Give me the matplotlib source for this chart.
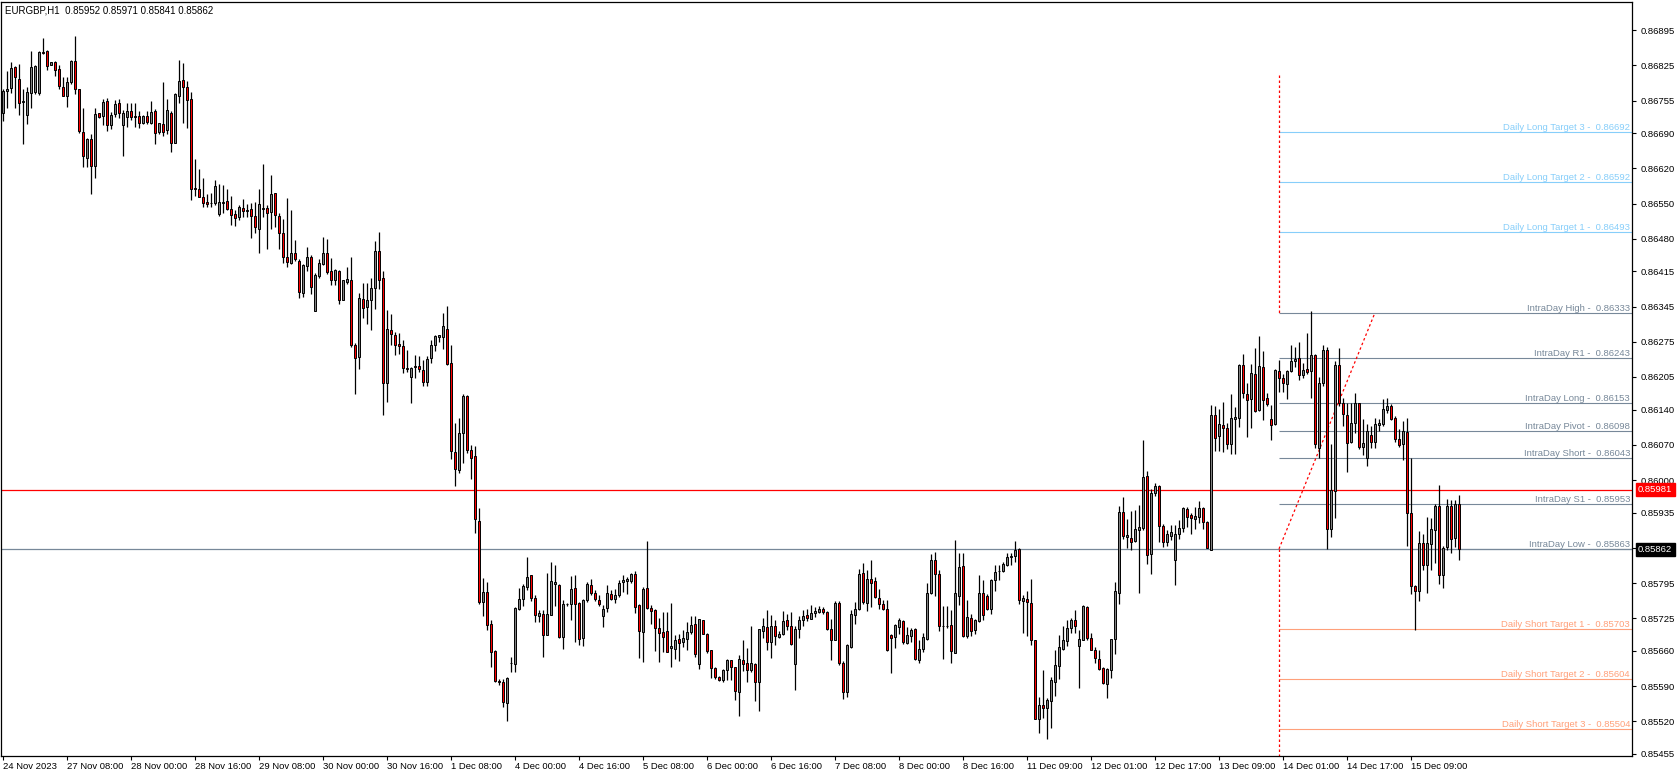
import numpy as np
import matplotlib
matplotlib.use("Agg")
import matplotlib.pyplot as plt
import matplotlib.transforms as mtrans

# EURGBP H1 candles, prices in points (1e-5)
opens_pt = [
    86731, 86774, 86780, 86821, 86798, 86752, 86726, 86770, 86772, 86770,
    86851, 86853, 86826, 86831, 86818, 86782, 86764, 86792, 86833, 86777,
    86693, 86641, 86679, 86624, 86731, 86724, 86754, 86706, 86729, 86750,
    86706, 86722, 86734, 86724, 86725, 86711, 86724, 86711, 86734, 86692,
    86709, 86696, 86731, 86671, 86764, 86796, 86782, 86759, 86581, 86579,
    86564, 86553, 86552, 86551, 86530, 86552, 86556, 86539, 86529, 86524,
    86542, 86536, 86539, 86526, 86500, 86540, 86542, 86534, 86571, 86526,
    86492, 86443, 86432, 86452, 86436, 86372, 86426, 86443, 86336, 86405,
    86430, 86452, 86416, 86398, 86416, 86358, 86394, 86397, 86269, 86244,
    86361, 86344, 86358, 86382, 86456, 86402, 86194, 86299, 86289, 86271,
    86267, 86223, 86204, 86226, 86227, 86219, 86196, 86242, 86269, 86284,
    86284, 86301, 86233, 86056, 86019, 86093, 86168, 86059, 86047, 85919,
    85757, 85777, 85714, 85659, 85601, 85599, 85556, 85636, 85634, 85744,
    85763, 85788, 85811, 85766, 85730, 85734, 85692, 85732, 85794, 85792,
    85688, 85753, 85753, 85786, 85756, 85686, 85761, 85792, 85776, 85762,
    85730, 85746, 85774, 85763, 85771, 85798, 85800, 85799, 85814, 85751,
    85698, 85786, 85746, 85742, 85706, 85698, 85700, 85666, 85664, 85684,
    85678, 85684, 85698, 85713, 85634, 85721, 85694, 85661, 85626, 85609,
    85602, 85622, 85641, 85628, 85578, 85642, 85636, 85623, 85634, 85598,
    85700, 85708, 85678, 85710, 85688, 85694, 85721, 85709, 85634, 85703,
    85722, 85731, 85724, 85736, 85738, 85744, 85738, 85704, 85682, 85756,
    85637, 85578, 85668, 85732, 85744, 85816, 85756, 85804, 85800, 85766,
    85753, 85744, 85691, 85688, 85708, 85720, 85676, 85689, 85703, 85642,
    85663, 85684, 85776, 85841, 85813, 85710, 85710, 85711, 85656, 85769,
    85829, 85689, 85726, 85701, 85720, 85776, 85769, 85744, 85802, 85819,
    85820, 85830, 85846, 85848, 85862, 85760, 85764, 85756, 85681, 85524,
    85552, 85547, 85561, 85599, 85631, 85664, 85679, 85705, 85721, 85669,
    85682, 85748, 85686, 85662, 85644, 85626, 85595, 85622, 85683, 85776,
    85936, 85886, 85884, 85878, 85900, 85904, 86009, 85852, 85975, 85988,
    85909, 85877, 85889, 85841, 85892, 85905, 85943, 85931, 85923, 85927,
    85945, 85917, 85861, 86129, 86088, 86109, 86104, 86071, 86121, 86124,
    86228, 86172, 86161, 86211, 86139, 86224, 86163, 86121, 86111, 86216,
    86203, 86192, 86216, 86236, 86243, 86209, 86221, 86216, 86248, 86063,
    86194, 86258, 85902, 85979, 86228, 86154, 86129, 86076, 86114, 86153,
    86066, 86043, 86089, 86076, 86109, 86111, 86140, 86148, 86124, 86082,
    86071, 86096, 85934, 85790, 85780, 85874, 85830, 85873, 85901, 85949,
    85812, 85866, 85948, 85884, 85952,
]
highs_pt = [
    86778, 86814, 86832, 86824, 86828, 86778, 86781, 86853, 86826, 86854,
    86879, 86856, 86832, 86834, 86826, 86801, 86801, 86836, 86883, 86778,
    86741, 86681, 86688, 86741, 86731, 86758, 86760, 86733, 86756, 86758,
    86736, 86751, 86751, 86751, 86734, 86726, 86734, 86754, 86738, 86711,
    86791, 86758, 86734, 86770, 86836, 86829, 86794, 86772, 86639, 86618,
    86601, 86570, 86571, 86596, 86588, 86586, 86578, 86566, 86538, 86548,
    86559, 86549, 86551, 86554, 86578, 86629, 86548, 86606, 86572, 86532,
    86520, 86561, 86538, 86477, 86439, 86430, 86463, 86447, 86412, 86439,
    86483, 86479, 86441, 86420, 86418, 86397, 86423, 86443, 86273, 86373,
    86391, 86391, 86401, 86476, 86493, 86416, 86338, 86331, 86294, 86293,
    86278, 86258, 86224, 86248, 86246, 86238, 86246, 86278, 86289, 86288,
    86333, 86347, 86268, 86113, 86124, 86172, 86169, 86069, 86067, 85945,
    85805, 85797, 85721, 85661, 85604, 85604, 85608, 85648, 85748, 85786,
    85794, 85846, 85812, 85771, 85741, 85741, 85816, 85836, 85831, 85794,
    85761, 85756, 85810, 85811, 85758, 85764, 85798, 85804, 85781, 85771,
    85751, 85791, 85781, 85784, 85801, 85812, 85808, 85816, 85819, 85754,
    85788, 85879, 85751, 85743, 85726, 85738, 85738, 85756, 85691, 85694,
    85701, 85718, 85729, 85729, 85724, 85722, 85696, 85662, 85628, 85611,
    85624, 85644, 85642, 85629, 85651, 85681, 85666, 85709, 85636, 85703,
    85726, 85741, 85731, 85721, 85700, 85739, 85734, 85738, 85709, 85730,
    85742, 85744, 85751, 85748, 85749, 85748, 85740, 85724, 85760, 85760,
    85640, 85673, 85741, 85758, 85823, 85834, 85821, 85841, 85808, 85784,
    85762, 85762, 85693, 85713, 85726, 85721, 85708, 85706, 85706, 85681,
    85696, 85796, 85853, 85856, 85822, 85749, 85749, 85742, 85881, 85854,
    85854, 85761, 85734, 85724, 85811, 85801, 85774, 85804, 85830, 85831,
    85836, 85854, 85854, 85878, 85864, 85771, 85780, 85803, 85682, 85569,
    85622, 85567, 85609, 85661, 85691, 85709, 85721, 85725, 85742, 85701,
    85751, 85749, 85695, 85667, 85661, 85629, 85627, 85684, 85797, 85948,
    85966, 85923, 85939, 85941, 85951, 86080, 86018, 85982, 85995, 85991,
    85912, 85901, 85910, 85911, 85921, 85947, 85947, 85935, 85947, 85959,
    85947, 85919, 86149, 86148, 86141, 86156, 86114, 86172, 86146, 86231,
    86250, 86194, 86231, 86263, 86286, 86256, 86174, 86150, 86221, 86238,
    86210, 86219, 86268, 86264, 86274, 86232, 86292, 86336, 86251, 86205,
    86268, 86264, 86071, 86236, 86262, 86163, 86154, 86154, 86174, 86154,
    86121, 86111, 86108, 86124, 86121, 86161, 86164, 86151, 86128, 86101,
    86118, 86124, 86044, 85791, 85898, 85893, 85926, 85924, 85953, 85990,
    85868, 85962, 85961, 85961, 85971,
]
lows_pt = [
    86714, 86741, 86770, 86741, 86726, 86669, 86709, 86741, 86768, 86766,
    86848, 86816, 86825, 86804, 86778, 86764, 86743, 86788, 86768, 86691,
    86622, 86622, 86570, 86601, 86720, 86706, 86694, 86698, 86722, 86721,
    86644, 86702, 86716, 86702, 86700, 86708, 86708, 86708, 86668, 86689,
    86684, 86688, 86652, 86670, 86751, 86710, 86700, 86558, 86566, 86563,
    86544, 86543, 86543, 86548, 86526, 86532, 86538, 86508, 86506, 86518,
    86524, 86523, 86482, 86491, 86452, 86524, 86459, 86500, 86504, 86460,
    86432, 86424, 86430, 86436, 86362, 86364, 86416, 86371, 86336, 86401,
    86428, 86409, 86388, 86388, 86350, 86358, 86390, 86264, 86171, 86220,
    86323, 86311, 86299, 86341, 86381, 86129, 86156, 86268, 86248, 86250,
    86213, 86214, 86153, 86202, 86214, 86188, 86188, 86233, 86256, 86274,
    86260, 86228, 86042, 85989, 86014, 86034, 86054, 86002, 85895, 85753,
    85729, 85702, 85629, 85598, 85592, 85548, 85521, 85619, 85618, 85741,
    85750, 85781, 85759, 85718, 85718, 85648, 85691, 85731, 85749, 85686,
    85663, 85750, 85721, 85678, 85671, 85670, 85758, 85772, 85759, 85750,
    85708, 85738, 85761, 85756, 85768, 85778, 85774, 85796, 85736, 85646,
    85638, 85744, 85714, 85659, 85638, 85658, 85658, 85628, 85644, 85640,
    85668, 85661, 85694, 85648, 85624, 85693, 85656, 85606, 85604, 85600,
    85599, 85602, 85602, 85562, 85531, 85620, 85599, 85618, 85561, 85540,
    85686, 85662, 85646, 85671, 85686, 85691, 85701, 85672, 85582, 85686,
    85709, 85720, 85723, 85728, 85736, 85734, 85702, 85642, 85681, 85633,
    85565, 85568, 85666, 85713, 85741, 85754, 85740, 85748, 85766, 85743,
    85741, 85660, 85616, 85666, 85694, 85674, 85673, 85678, 85641, 85636,
    85658, 85682, 85774, 85769, 85700, 85644, 85706, 85636, 85656, 85751,
    85688, 85686, 85689, 85693, 85718, 85721, 85741, 85734, 85780, 85801,
    85818, 85828, 85830, 85836, 85753, 85695, 85689, 85671, 85524, 85497,
    85526, 85484, 85506, 85571, 85604, 85662, 85669, 85695, 85695, 85587,
    85681, 85682, 85661, 85637, 85622, 85595, 85567, 85607, 85654, 85753,
    85882, 85864, 85860, 85876, 85776, 85901, 85832, 85814, 85968, 85876,
    85867, 85869, 85881, 85792, 85883, 85896, 85907, 85892, 85903, 85914,
    85903, 85864, 85861, 86058, 86058, 86056, 86061, 86052, 86052, 86106,
    86163, 86086, 86104, 86136, 86138, 86120, 86148, 86079, 86110, 86176,
    86176, 86162, 86214, 86224, 86200, 86203, 86210, 86164, 86063, 86043,
    86188, 85862, 85886, 85924, 86148, 86108, 86016, 86074, 86094, 86062,
    86049, 86028, 86064, 86064, 86098, 86108, 86134, 86120, 86076, 86066,
    86040, 85868, 85773, 85702, 85760, 85822, 85776, 85822, 85834, 85793,
    85786, 85861, 85854, 85866, 85841,
]
closes_pt = [
    86774, 86778, 86819, 86801, 86750, 86754, 86772, 86822, 86824, 86851,
    86850, 86824, 86831, 86816, 86784, 86764, 86791, 86834, 86778, 86694,
    86644, 86679, 86624, 86729, 86722, 86753, 86706, 86726, 86748, 86731,
    86731, 86734, 86722, 86722, 86711, 86724, 86712, 86732, 86690, 86710,
    86693, 86736, 86671, 86767, 86794, 86782, 86756, 86579, 86578, 86563,
    86552, 86550, 86551, 86584, 86553, 86554, 86539, 86528, 86522, 86544,
    86536, 86537, 86526, 86503, 86550, 86542, 86532, 86569, 86528, 86492,
    86444, 86434, 86451, 86439, 86374, 86427, 86443, 86384, 86407, 86432,
    86451, 86414, 86398, 86418, 86358, 86397, 86399, 86269, 86242, 86362,
    86342, 86359, 86383, 86456, 86398, 86194, 86301, 86290, 86268, 86266,
    86222, 86220, 86222, 86225, 86220, 86196, 86241, 86269, 86286, 86288,
    86306, 86230, 86057, 86022, 86093, 86168, 86059, 86044, 85922, 85757,
    85777, 85712, 85657, 85600, 85598, 85558, 85606, 85637, 85746, 85764,
    85789, 85808, 85766, 85731, 85736, 85692, 85734, 85799, 85797, 85688,
    85754, 85754, 85784, 85754, 85684, 85761, 85794, 85776, 85764, 85753,
    85744, 85776, 85763, 85772, 85796, 85801, 85803, 85814, 85748, 85700,
    85784, 85746, 85740, 85706, 85696, 85688, 85658, 85669, 85682, 85676,
    85686, 85698, 85712, 85653, 85723, 85694, 85660, 85626, 85608, 85603,
    85622, 85641, 85628, 85580, 85644, 85634, 85622, 85636, 85598, 85703,
    85709, 85678, 85709, 85689, 85694, 85719, 85709, 85674, 85704, 85722,
    85729, 85726, 85736, 85740, 85743, 85738, 85704, 85682, 85756, 85636,
    85578, 85671, 85733, 85744, 85814, 85758, 85803, 85796, 85768, 85753,
    85744, 85662, 85686, 85711, 85721, 85678, 85691, 85702, 85644, 85663,
    85688, 85776, 85841, 85813, 85709, 85709, 85710, 85659, 85776, 85826,
    85689, 85728, 85700, 85721, 85776, 85731, 85744, 85802, 85818, 85820,
    85833, 85846, 85849, 85860, 85762, 85766, 85758, 85682, 85525, 85552,
    85547, 85562, 85602, 85633, 85667, 85682, 85706, 85721, 85709, 85684,
    85749, 85686, 85662, 85646, 85624, 85597, 85624, 85683, 85779, 85936,
    85889, 85890, 85876, 85902, 85906, 86006, 85850, 85974, 85988, 85908,
    85877, 85893, 85896, 85892, 85905, 85945, 85927, 85924, 85929, 85945,
    85916, 85865, 86129, 86084, 86111, 86103, 86072, 86123, 86126, 86229,
    86174, 86160, 86212, 86138, 86226, 86160, 86152, 86110, 86219, 86202,
    86194, 86216, 86236, 86241, 86208, 86219, 86214, 86248, 86071, 86194,
    86258, 85902, 85981, 86228, 86154, 86131, 86074, 86114, 86153, 86066,
    86073, 86098, 86076, 86112, 86113, 86141, 86148, 86122, 86082, 86070,
    86098, 85934, 85790, 85780, 85874, 85830, 85874, 85902, 85948, 85812,
    85864, 85948, 85882, 85952, 85862,
]

time_labels = ["24 Nov 2023", "27 Nov 08:00", "28 Nov 00:00", "28 Nov 16:00",
               "29 Nov 08:00", "30 Nov 00:00", "30 Nov 16:00", "1 Dec 08:00",
               "4 Dec 00:00", "4 Dec 16:00", "5 Dec 08:00", "6 Dec 00:00",
               "6 Dec 16:00", "7 Dec 08:00", "8 Dec 00:00", "8 Dec 16:00",
               "11 Dec 09:00", "12 Dec 01:00", "12 Dec 17:00", "13 Dec 09:00",
               "14 Dec 01:00", "14 Dec 17:00", "15 Dec 09:00"]
bars_per_label = 16

price_ticks = [0.86895, 0.86825, 0.86755, 0.86690, 0.86620, 0.86550, 0.86480,
               0.86415, 0.86345, 0.86275, 0.86205, 0.86140, 0.86070, 0.86000,
               0.85935, 0.85865, 0.85795, 0.85725, 0.85660, 0.85590, 0.85520,
               0.85455]

level_names = ["Daily Long Target 3", "Daily Long Target 2", "Daily Long Target 1",
               "IntraDay High", "IntraDay R1", "IntraDay Long", "IntraDay Pivot",
               "IntraDay Short", "IntraDay S1", "IntraDay Low",
               "Daily Short Target 1", "Daily Short Target 2", "Daily Short Target 3"]
level_values = [0.86692, 0.86592, 0.86493, 0.86333, 0.86243, 0.86153, 0.86098,
                0.86043, 0.85953, 0.85863, 0.85703, 0.85604, 0.85504]
level_kinds = ["long"] * 3 + ["intra"] * 7 + ["short"] * 3

symbol = "EURGBP,H1"
red_line = 0.85981
bid_line = 0.85862
day_start_bar = 319
diag_end_bar = 343
marker_top = 0.86805

opens = np.array(opens_pt) / 1e5
highs = np.array(highs_pt) / 1e5
lows = np.array(lows_pt) / 1e5
closes = np.array(closes_pt) / 1e5

W, H = 1677, 778
plt.rcParams['font.family'] = ['Liberation Sans', 'DejaVu Sans']
fig = plt.figure(figsize=(W / 100, H / 100), dpi=100)
ax = fig.add_axes([1 / W, 22 / H, 1631 / W, 754 / H])

x_left, x_right = -0.5, 407.25
y_low, y_high = 0.85451, 0.86951
ax.set_xlim(x_left, x_right)
ax.set_ylim(y_low, y_high)

kind_color = {"long": "#87CEFA", "intra": "#778899", "short": "#FFA07A"}
tr = mtrans.blended_transform_factory(ax.transAxes, ax.transData)

# full width lines
ax.axhline(red_line, color="red", lw=0.9, zorder=2)
ax.axhline(bid_line, color="#778899", lw=0.9, zorder=2)

# levels of the day
for name, val, kind in zip(level_names, level_values, level_kinds):
    col = kind_color[kind]
    ax.hlines(val, day_start_bar, x_right, color=col, lw=0.8, zorder=2)
    ax.text(1 - 2 / 1631, val, f"{name} -  {val:.5f}", color=col, fontsize=6.8,
            ha="right", va="bottom", transform=tr)

dash = (0, (2, 2))
hi_lvl = level_values[level_names.index("IntraDay High")]
lo_lvl = level_values[level_names.index("IntraDay Low")]
ax.plot([day_start_bar, day_start_bar], [marker_top, hi_lvl], color="red", lw=0.9, ls=dash, zorder=2)
ax.plot([day_start_bar, day_start_bar], [lo_lvl, y_low], color="red", lw=0.9, ls=dash, zorder=2)
ax.plot([day_start_bar, diag_end_bar], [lo_lvl, hi_lvl], color="red", lw=0.9, ls=dash, zorder=2)

# candles
xs = np.arange(len(opens))
ax.vlines(xs, lows, highs, color="black", lw=0.9, zorder=3)
up = closes >= opens
ax.bar(xs, closes - opens, bottom=opens, width=0.55,
       color=np.where(up, "#808080", "#FF0000"), edgecolor="black", linewidth=0.7, zorder=4)

# axes
for s in ax.spines.values():
    s.set_color("black")
    s.set_linewidth(0.9)
ax.yaxis.tick_right()
ax.set_yticks(price_ticks)
ax.set_yticklabels([f"{p:.5f}" for p in price_ticks])
ax.tick_params(axis="y", direction="out", length=3, width=0.8, labelsize=6.8, pad=3)
ax.set_xticks(np.arange(len(time_labels)) * bars_per_label)
ax.set_xticklabels(time_labels)
for lab in ax.get_xticklabels():
    lab.set_horizontalalignment("left")
ax.tick_params(axis="x", direction="out", length=3, width=0.8, labelsize=6.8, pad=1.5)

ax.text(1 + 6 / 1631, red_line, f"{red_line:.5f}", color="white", fontsize=6.8, va="center", ha="left",
        transform=tr, clip_on=False, zorder=6,
        bbox=dict(boxstyle="square,pad=0.25", fc="red", ec="red"))
ax.text(1 + 6 / 1631, bid_line, f"{bid_line:.5f}", color="white", fontsize=6.8, va="center", ha="left",
        transform=tr, clip_on=False, zorder=6,
        bbox=dict(boxstyle="square,pad=0.25", fc="black", ec="black"))

fig.text(5 / W, 1 - 10.5 / H,
         f"{symbol}  {opens[-1]:.5f} {highs[-1]:.5f} {lows[-1]:.5f} {closes[-1]:.5f}",
         fontsize=7.0, va="center", ha="left")

fig.savefig("out.png", dpi=100)
